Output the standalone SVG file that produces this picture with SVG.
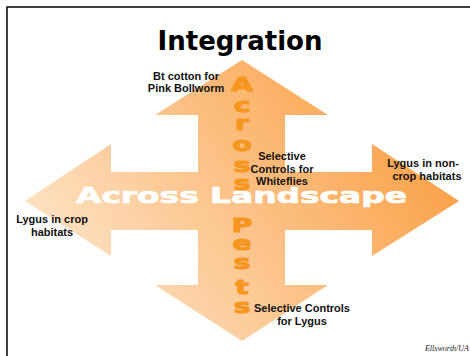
<svg xmlns="http://www.w3.org/2000/svg" width="470" height="356" viewBox="0 0 470 356">
<defs>
<linearGradient id="g" gradientUnits="userSpaceOnUse" x1="60" y1="330" x2="430" y2="70">
<stop offset="0" stop-color="#FEE8D0"/>
<stop offset="1" stop-color="#FA9A3A"/>
</linearGradient>
</defs>
<style>
.lbl{font-family:"Liberation Sans",Arial,sans-serif;font-weight:bold;font-size:11px;fill:#111;text-anchor:middle}
.ap{font-family:"DejaVu Sans",Verdana,sans-serif;font-weight:bold;font-size:20px;fill:#F7961E;stroke:#F7961E;stroke-width:1.1;stroke-linejoin:round;text-anchor:middle}
</style>
<rect x="7" y="7" width="480" height="370" fill="#fff" stroke="#000" stroke-width="1.5"/>
<text x="240" y="50" text-anchor="middle" style="font-family:'DejaVu Sans',Verdana,sans-serif;font-weight:bold;font-size:26px;fill:#000">Integration</text>
<g id="cross">
<polygon fill="url(#g)" points="242,60 328,115 285,115 285,172 372,172 372,144 459,201 372,256 372,230 285,230 285,285 328,285 242,341 155,285 198,285 198,230 111,230 111,256 25,201 111,144 111,172 198,172 198,115 155,115"/>
</g>
<g id="landscape">
<text x="76" y="203" textLength="331" lengthAdjust="spacingAndGlyphs" style="font-family:'DejaVu Sans',Verdana,sans-serif;font-weight:bold;font-size:22px;fill:#fff;stroke:#fff;stroke-width:0.7;stroke-linejoin:round">Across Landscape</text>
</g>
<g id="pests" transform="translate(242,0) scale(1.4,1)">
<text class="ap" x="0" y="91">A</text>
<text class="ap" x="0" y="112">c</text>
<text class="ap" x="0" y="130">r</text>
<text class="ap" x="0" y="151">o</text>
<text class="ap" x="0" y="172">s</text>
<text class="ap" x="0" y="190">s</text>
<text class="ap" x="0" y="232">P</text>
<text class="ap" x="0" y="250">e</text>
<text class="ap" x="0" y="269">s</text>
<text class="ap" x="0" y="294">t</text>
<text class="ap" x="0" y="313">s</text>
</g>
<g id="bt"><text class="lbl" x="186" y="80">Bt cotton for</text><text class="lbl" x="186" y="92">Pink Bollworm</text></g>
<g id="whiteflies"><text class="lbl" x="282" y="160">Selective</text><text class="lbl" x="282" y="173">Controls for</text><text class="lbl" x="282" y="185">Whiteflies</text></g>
<g id="noncrop"><text class="lbl" x="423" y="167">Lygus in non-</text><text class="lbl" x="427" y="180">crop habitats</text></g>
<g id="crop"><text class="lbl" x="52" y="223">Lygus in crop</text><text class="lbl" x="52" y="236">habitats</text></g>
<g id="lygus"><text class="lbl" x="302" y="312">Selective Controls</text><text class="lbl" x="302" y="325">for Lygus</text></g>
<text x="469" y="351" text-anchor="end" style="font-family:'Liberation Serif','Times New Roman',serif;font-style:italic;font-size:8px;fill:#222">Ellsworth/UA</text>
</svg>
